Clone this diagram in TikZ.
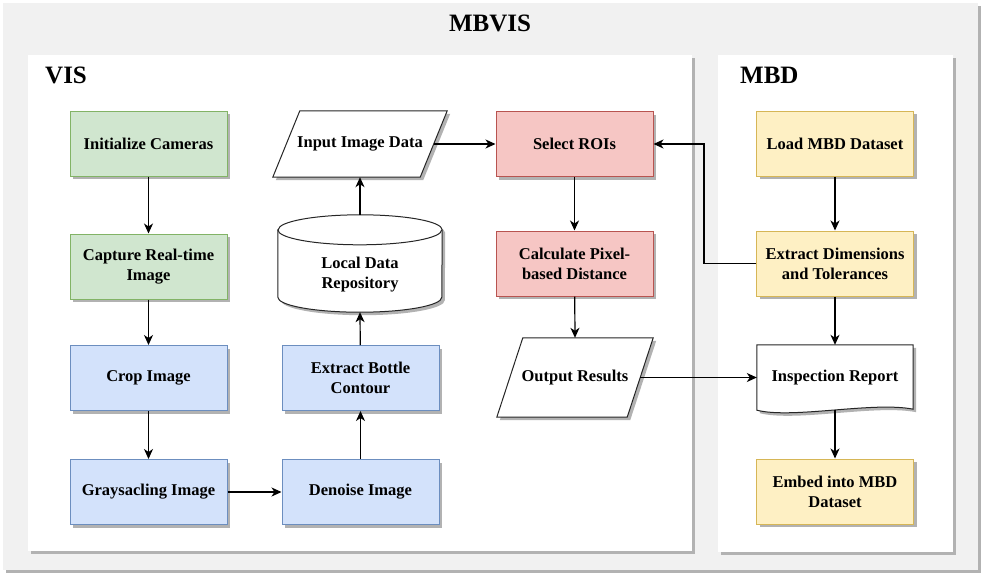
\documentclass[tikz,border=0pt]{standalone}
\usepackage{fontspec}
\setmainfont{Liberation Serif}[BoldFont={Liberation Serif Bold}]
\usetikzlibrary{arrows.meta,shadows}
\definecolor{bgray}{HTML}{F1F1F1}
\definecolor{gfill}{HTML}{D0E6CF}\definecolor{gline}{HTML}{82B366}
\definecolor{bfill}{HTML}{D3E2FB}\definecolor{bline}{HTML}{6C8EBF}
\definecolor{rfill}{HTML}{F6C6C4}\definecolor{rline}{HTML}{B85450}
\definecolor{yfill}{HTML}{FEF0C4}\definecolor{yline}{HTML}{D6B656}
\tikzset{
  shade3/.style={drop shadow={shadow xshift=3pt, shadow yshift=-3pt, fill=black!30, opacity=1}},
  panel/.style={fill=white, draw=none, shade3},
  ttl/.style={font=\bfseries\fontsize{25}{30}\selectfont, inner sep=0pt},
  txt/.style={font=\bfseries\fontsize{16.5}{20}\selectfont, align=center},
  box/.style={txt, rectangle, line width=1pt, minimum width=157pt, minimum height=65pt, shade3},
  gbox/.style={box, fill=gfill, draw=gline},   % camera stage
  bbox/.style={box, fill=bfill, draw=bline},   % image processing
  rbox/.style={box, fill=rfill, draw=rline},   % measurement
  ybox/.style={box, fill=yfill, draw=yline},   % MBD side
  hold/.style={inner sep=0pt},                 % empty frame for drawn shapes
  shp/.style={fill=white, draw=black!85, line width=1pt, shade3},
  flow/.style={black, line width=1.2pt, -{Stealth[length=10pt,width=9pt,inset=3pt]}},
}
\begin{document}
\begin{tikzpicture}[x=1pt, y=-1pt]
  \useasboundingbox (0,0) rectangle (984,579);

  % --- frames ---
  \fill[bgray, shade3] (3,3) rectangle (978,570);
  \path[panel] (28,55) rectangle (692,551);
  \path[panel] (718,55) rectangle (953,552);
  \node[ttl, anchor=base] (main) at (490,31.5) {MBVIS};
  \node[ttl, anchor=base west] (vis) at (45,83.5) {VIS};
  \node[ttl, anchor=base west] (mbd) at (740,83.5) {MBD};

  % --- VIS: capture and preprocessing ---
  \node[gbox] (init) at (148.5,143.5) {Initialize Cameras};
  \node[gbox] (capt) at (148.5,266.5) {Capture Real-time\\Image};
  \node[bbox] (crop) at (148.5,378) {Crop Image};
  \node[bbox] (gray) at (148.5,492) {Graysacling Image};
  \node[bbox] (noise) at (360.5,492) {Denoise Image};
  \node[bbox] (cont) at (360.5,378) {Extract Bottle\\Contour};

  % --- local store (cylinder) ---
  \node[hold, minimum width=164pt, minimum height=97pt] (repo) at (360,263.5) {};
  \draw[shp] ([yshift=-15pt]repo.north west) -- ([yshift=15pt]repo.south west)
    arc[start angle=180, end angle=360, x radius=82pt, y radius=15pt]
    -- ([yshift=-15pt]repo.north east)
    arc[start angle=0, end angle=180, x radius=82pt, y radius=15pt] -- cycle;
  \draw[black!85, line width=1pt] ([yshift=-15pt]repo.north west)
    arc[start angle=180, end angle=360, x radius=82pt, y radius=15pt];
  \node[txt] (repotxt) at ([yshift=-11.5pt]repo.center) {Local Data\\Repository};

  % --- input data (parallelogram, slant 27) ---
  \node[hold, minimum width=147pt, minimum height=66pt] (input) at (360,144) {};
  \draw[shp] ([xshift=-13.5pt]input.south west) -- ([xshift=13.5pt]input.north west)
    -- ([xshift=13.5pt]input.north east) -- ([xshift=-13.5pt]input.south east) -- cycle;
  \node[txt] (inputtxt) at (input.center) {Input Image Data};

  % --- VIS: measurement ---
  \node[rbox] (roi) at (574.5,144) {Select ROIs};
  \node[rbox] (calc) at (574.5,263.5) {Calculate Pixel-\\based Distance};
  \node[hold, minimum width=130pt, minimum height=79pt] (outp) at (575,377.5) {};
  \draw[shp] ([xshift=-13pt]outp.south west) -- ([xshift=13pt]outp.north west)
    -- ([xshift=13pt]outp.north east) -- ([xshift=-13pt]outp.south east) -- cycle;
  \node[txt] (outptxt) at (outp.center) {Output Results};

  % --- MBD column ---
  \node[ybox] (load) at (835,143.5) {Load MBD Dataset};
  \node[ybox] (dims) at (835,263.5) {Extract Dimensions\\and Tolerances};
  \node[hold, minimum width=156pt, minimum height=65pt] (rep) at (835,377.5) {};
  \draw[shp] (rep.south west) -- (rep.north west) -- (rep.north east)
    -- ([yshift=1pt]rep.south east)
    .. controls ([xshift=-40pt,yshift=9pt]rep.south east) and ([xshift=36pt,yshift=-9pt]rep.south west) .. (rep.south west) -- cycle;
  \node[txt] (reptxt) at (rep.center) {Inspection Report};
  \node[ybox] (embed) at (835,491.5) {Embed into MBD\\Dataset};

  % --- connectors ---
  \draw[flow] (init) -- (capt);
  \draw[flow] (capt) -- (crop);
  \draw[flow] (crop) -- (gray);
  \draw[flow] (gray) -- (noise);
  \draw[flow] (noise) -- (cont);
  \draw[flow] (cont) -- (repo.south);
  \draw[flow] (repo.north) -- (input.south);
  \draw[flow] (input.east) -- (roi.west);
  \draw[flow] (roi) -- (calc);
  \draw[flow] (calc) -- (outp.north);
  \draw[flow] (outp.east) -- (rep.west);
  \draw[flow] (load) -- (dims);
  \draw[flow] (dims.west) -- ++(-52,0) |- (roi.east);
  \draw[flow] (dims) -- (rep.north);
  \draw[flow] (rep.south) -- (embed);
\end{tikzpicture}
\end{document}
